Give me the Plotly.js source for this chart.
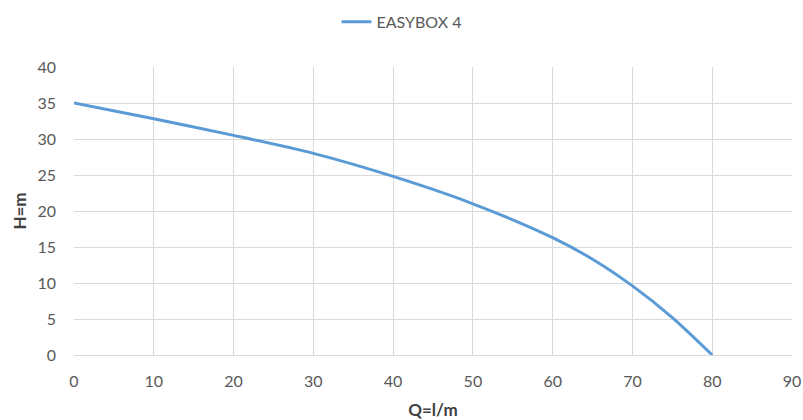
<!DOCTYPE html>
<html><head><meta charset="utf-8">
<script src="https://cdn.plot.ly/plotly-3.0.1.min.js"></script>
<style>body{margin:0;background:#fff}#c{width:803px;height:420px}</style>
</head><body><div id="c"></div>
<script>
const flowQ = [0, 10, 20, 30, 40, 50, 60, 65, 70, 75, 80];
const headH = [35, 32.8, 30.5, 28, 24.8, 21, 16.3, 13.3, 9.6, 5.2, 0];
const seriesName = 'EASYBOX 4';
const FONT = 'Lato, "Liberation Sans", sans-serif';
Plotly.newPlot('c', [{
  x: flowQ, y: headH, name: seriesName, type: 'scatter', mode: 'lines',
  line: {color: '#5B9BD5', width: 3, shape: 'spline', smoothing: 0.8}
}], {
  width: 803, height: 420,
  margin: {l: 74, r: 11, t: 67, b: 65, autoexpand: false},
  paper_bgcolor: '#fff', plot_bgcolor: '#fff',
  font: {family: FONT, color: '#595959', size: 16},
  showlegend: true,
  legend: {orientation: 'h', x: 0.5, xref: 'container', xanchor: 'center', y: 0.948, yref: 'container', yanchor: 'middle', font: {size: 16, color: '#595959'}},
  xaxis: {range: [0, 90], dtick: 10, showgrid: true, gridcolor: '#d9d9d9', gridwidth: 1,
    zeroline: false, showline: true, linecolor: '#d9d9d9', mirror: false, ticks: '',
    ticklabelstandoff: 12,
    tickfont: {size: 16, color: '#595959'},
    title: {text: '<b>Q=l/m</b>', font: {size: 17, color: '#404040'}, standoff: 14}},
  yaxis: {range: [0, 40], dtick: 5, showgrid: true, gridcolor: '#d9d9d9', gridwidth: 1,
    zeroline: false, showline: false, ticks: '',
    ticklabelstandoff: 17,
    tickfont: {size: 16, color: '#595959'},
    title: {text: '<b>H=m</b>', font: {size: 17, color: '#404040'}, standoff: 6}}
}, {displayModeBar: false});
</script></body></html>
